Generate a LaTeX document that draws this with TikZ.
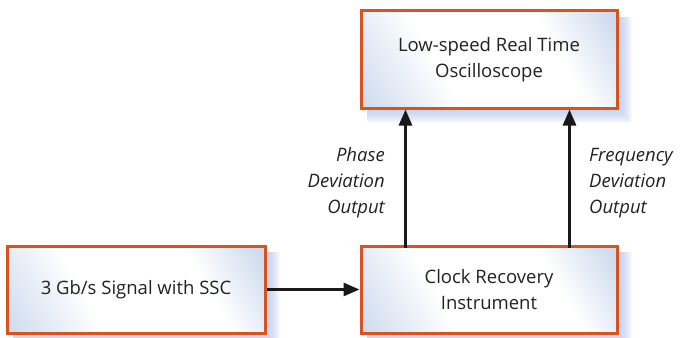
\documentclass[tikz,border=0pt]{standalone}
\usepackage{fontspec}
\setmainfont{Open Sans}
\usetikzlibrary{arrows.meta,shadings}
\definecolor{boxred}{HTML}{D9531E}
\definecolor{boxblue}{HTML}{C3D3EA}
\definecolor{glow}{HTML}{AFC3E6}
\definecolor{txt}{HTML}{222222}
\pgfdeclareverticalshading{boxshade}{100bp}{%
  color(0bp)=(boxblue); color(14bp)=(boxblue); color(34bp)=(white);
  color(62bp)=(white); color(86bp)=(boxblue!90); color(100bp)=(boxblue!90)}
\tikzset{
  blockbox/.style={draw=boxred, line width=3pt, rectangle, inner sep=0pt,
    shading=boxshade, shading angle=120,
    align=center, font=\fontsize{18.5}{26}\selectfont, text=txt},
  conn/.style={line width=2.8pt, draw=black!90, -{Triangle[width=13pt,length=16pt]}},
  lbl/.style={font=\fontsize{18.5}{26}\selectfont\itshape, text=txt, inner sep=0pt}
}
\newcommand{\glowbox}[4]{%
  \foreach \k in {1,...,15}{%
    \fill[glow, opacity=0.085] ({#1+6},{#2+6}) rectangle ({#3+\k},{#4+\k});
  }%
}
\begin{document}
\begin{tikzpicture}[x=1pt,y=-1pt]
\useasboundingbox (0,0) rectangle (682,337);
\glowbox{361}{11}{617}{108}
\glowbox{7}{246}{265}{333}
\glowbox{361}{246}{617}{333}
\node[blockbox, minimum width=256pt, minimum height=97pt] (osc) at (489,59.5) {Low-speed Real Time\\Oscilloscope};
\node[blockbox, minimum width=258pt, minimum height=87pt] (sig) at (136,289.5) {3 Gb/s Signal with SSC};
\node[blockbox, minimum width=256pt, minimum height=87pt] (cri) at (489,289.5) {Clock Recovery\\Instrument};
\draw[conn] (sig.east) -- (cri.west);
\draw[conn] (cri.south west) ++(46,-87) coordinate (p1) -- (p1 |- osc.south);
\draw[conn] (cri.south west) ++(210,-87) coordinate (p2) -- (p2 |- osc.south);
\node[lbl, anchor=east, align=right] (ph) at (385,183) {Phase\\Deviation\\Output};
\node[lbl, anchor=west, align=left] (fr) at (589,183) {Frequency\\Deviation\\Output};
\end{tikzpicture}
\end{document}
